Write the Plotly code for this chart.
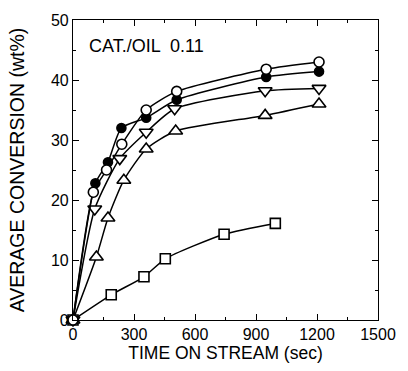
import plotly.graph_objects as go

# Data
t_open_circle = [0, 100, 165, 240, 360, 510, 950, 1210]
y_open_circle = [0, 21.3, 25.0, 29.3, 35.0, 38.1, 41.8, 43.0]

t_filled_circle = [0, 110, 172, 238, 360, 510, 950, 1210]
y_filled_circle = [0, 22.8, 26.3, 32.0, 33.7, 36.7, 40.5, 41.4]

t_down_tri = [0, 107, 230, 360, 500, 945, 1210]
y_down_tri = [0, 18.5, 26.9, 31.3, 35.2, 38.2, 38.6]

t_up_tri = [0, 115, 172, 250, 360, 505, 945, 1210]
y_up_tri = [0, 10.5, 17.0, 23.3, 28.5, 31.5, 34.1, 36.0]

t_square = [0, 188, 349, 454, 743, 995]
y_square = [0, 4.2, 7.2, 10.2, 14.3, 16.1]

x_ticks = [0, 300, 600, 900, 1200, 1500]
y_ticks = [0, 10, 20, 30, 40, 50]

series = [
    (t_square, y_square, "square", "white", 10),
    (t_up_tri, y_up_tri, "triangle-up", "white", 12),
    (t_down_tri, y_down_tri, "triangle-down", "white", 12),
    (t_filled_circle, y_filled_circle, "circle", "black", 9),
    (t_open_circle, y_open_circle, "circle", "white", 10),
]

fig = go.Figure()
for tx, ty, sym, fill, sz in series:
    fig.add_trace(go.Scatter(
        x=tx, y=ty, mode="lines+markers",
        line=dict(color="black", width=1.5, shape="spline", smoothing=0.6),
        marker=dict(symbol=sym, size=sz, color=fill,
                    line=dict(color="black", width=1.6)),
        cliponaxis=False, showlegend=False,
    ))

font = dict(family="Liberation Sans, Arial, sans-serif", color="black")
axis_common = dict(
    showgrid=False, zeroline=False, showline=True, linecolor="black", linewidth=1.2,
    mirror="ticks", ticks="inside", ticklen=6, tickcolor="black", tickwidth=1,
    tickfont=dict(size=16, **font), automargin=True,
)
fig.update_xaxes(range=[0, 1500], tickvals=x_ticks,
                 minor=dict(dtick=150, ticks="inside", ticklen=3, tickcolor="black"),
                 title=dict(text="TIME ON STREAM (sec)", font=dict(size=17.5, **font), standoff=3),
                 **axis_common)
fig.update_yaxes(range=[0, 50], tickvals=y_ticks,
                 minor=dict(dtick=5, ticks="inside", ticklen=3, tickcolor="black"),
                 title=dict(text="AVERAGE CONVERSION (wt%)", font=dict(size=19.5, **font), standoff=21),
                 **axis_common)

fig.add_annotation(x=70, y=45.7, xref="x", yref="y", text="CAT./OIL  0.11",
                   showarrow=False, xanchor="left", yanchor="middle",
                   font=dict(size=18, **font))

fig.update_layout(
    width=408, height=371,
    margin=dict(l=73, r=18, t=14, b=51),
    plot_bgcolor="white", paper_bgcolor="white",
)

fig.write_html("out.html")
